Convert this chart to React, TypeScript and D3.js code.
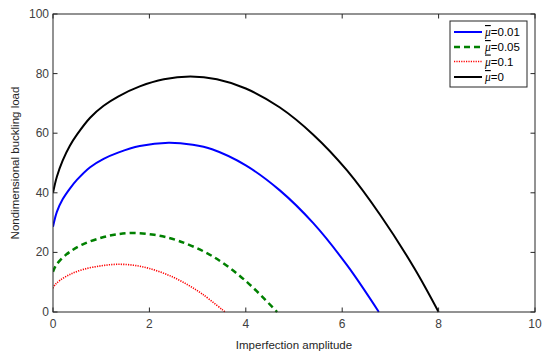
import React from 'react';
import * as d3 from 'd3';

// imperfection amplitude (x) and buckling load (y)
const xMu0 = [0, 0.08, 0.2, 0.35, 0.5, 0.77, 1.05, 1.35, 1.8, 2.3, 2.85, 3.4, 4.0, 4.7, 5.4, 6.1, 6.8, 7.5, 8.0];
const yMu0 = [40, 45.4, 50.8, 55.8, 59.6, 65.2, 69.2, 72.3, 75.7, 78.1, 79, 78.1, 75, 68.7, 59.5, 47.5, 32.3, 14.6, 0];

const xMu001 = [0, 0.08, 0.2, 0.35, 0.5, 0.77, 1.05, 1.35, 1.8, 2.4, 2.9, 3.3, 4.0, 4.7, 5.4, 6.1, 6.76];
const yMu001 = [28.6, 33.6, 37.8, 41.4, 44.4, 48.6, 51.4, 53.5, 55.7, 56.8, 56.1, 54.6, 49.2, 40.9, 29.8, 15.7, 0];

const xMu005 = [0, 0.05, 0.15, 0.35, 0.63, 1.0, 1.3, 1.65, 2.1, 2.6, 3.3, 4.0, 4.65];
const yMu005 = [13.5, 15.3, 17.4, 20.2, 22.8, 24.9, 26, 26.5, 25.9, 23.9, 18.8, 10.4, 0];

const xMu01 = [0, 0.05, 0.15, 0.35, 0.63, 1.0, 1.32, 1.67, 2.0, 2.36, 2.7, 3.1, 3.57];
const yMu01 = [8, 9.3, 10.7, 12.6, 14.3, 15.5, 16, 15.7, 14.6, 12.6, 10, 6, 0];

const xTicks = [0, 2, 4, 6, 8, 10];
const yTicks = [0, 20, 40, 60, 80, 100];
const legendLabels = ['=0.01', '=0.05', '=0.1', '=0'];

const W = 550, H = 357;
const margin = { top: 14, right: 15, bottom: 45, left: 53 };

export default function App() {
  const x = d3.scaleLinear().domain([0, 10]).range([margin.left, W - margin.right]);
  const y = d3.scaleLinear().domain([0, 100]).range([H - margin.bottom, margin.top]);

  const line = d3.line<[number, number]>()
    .x(d => x(d[0]))
    .y(d => y(d[1]))
    .curve(d3.curveCatmullRom.alpha(0.5));

  const zip = (xs: number[], ys: number[]) => xs.map((v, i) => [v, ys[i]] as [number, number]);

  const series = [
    { d: zip(xMu001, yMu001), color: '#0000ff', dash: undefined, width: 2 },
    { d: zip(xMu005, yMu005), color: '#008000', dash: '6,4', width: 2.5 },
    { d: zip(xMu01, yMu01), color: '#ff0000', dash: '1.2,1.2', width: 1.6 },
    { d: zip(xMu0, yMu0), color: '#000000', dash: undefined, width: 2 },
  ];

  const x0 = x(0), x1 = x(10), y0 = y(0), y1 = y(100);
  const axisColor = '#262626';
  const tickLen = 4.5;
  const font = 'Arial, "Liberation Sans", sans-serif';

  const lg = { x: 450, y: 21, w: 77, h: 66 };
  const rowY = [32, 47, 61.5, 77];

  return (
    <svg width={W} height={H} style={{ position: 'absolute', left: 0, top: 0, background: '#fff' }}
      fontFamily={font}>
      <rect x={0} y={0} width={W} height={H} fill="#fff" />
      <defs>
        <clipPath id="plot">
          <rect x={x0} y={y1} width={x1 - x0} height={y0 - y1 + 1} />
        </clipPath>
      </defs>

      <g clipPath="url(#plot)">
        {series.map((s, i) => (
          <path key={i} d={line(s.d) || ''} fill="none" stroke={s.color}
            strokeWidth={s.width} strokeDasharray={s.dash} />
        ))}
      </g>

      {/* axes box */}
      <rect x={x0} y={y1} width={x1 - x0} height={y0 - y1} fill="none" stroke={axisColor} strokeWidth={1} />

      {xTicks.map(t => (
        <g key={'x' + t}>
          <line x1={x(t)} x2={x(t)} y1={y0} y2={y0 - tickLen} stroke={axisColor} />
          <line x1={x(t)} x2={x(t)} y1={y1} y2={y1 + tickLen} stroke={axisColor} />
          <text x={x(t)} y={y0 + 16} textAnchor="middle" fontSize={12} fill="#404040">{t}</text>
        </g>
      ))}
      {yTicks.map(t => (
        <g key={'y' + t}>
          <line x1={x0} x2={x0 + tickLen} y1={y(t)} y2={y(t)} stroke={axisColor} />
          <line x1={x1} x2={x1 - tickLen} y1={y(t)} y2={y(t)} stroke={axisColor} />
          <text x={x0 - 4} y={y(t) + 4} textAnchor="end" fontSize={12} fill="#404040">{t}</text>
        </g>
      ))}

      <text x={(x0 + x1) / 2} y={349} textAnchor="middle" fontSize={11.5} fill="#262626">Imperfection amplitude</text>
      <text transform={`translate(19,${(y0 + y1) / 2}) rotate(-90)`} textAnchor="middle" fontSize={11.5}
        fill="#262626">Nondimensional buckling load</text>

      {/* legend */}
      <rect x={lg.x} y={lg.y} width={lg.w} height={lg.h} fill="#fff" stroke={axisColor} strokeWidth={1} />
      {series.map((s, i) => (
        <g key={'l' + i}>
          <line x1={454} x2={482} y1={rowY[i]} y2={rowY[i]} stroke={s.color}
            strokeWidth={s.width} strokeDasharray={s.dash} />
          <text x={485} y={rowY[i] + 4} fontSize={11.5} fill="#000">
            <tspan fontStyle="italic" fontFamily='"Times New Roman", "Liberation Serif", serif'
              style={{ textDecoration: 'overline' }}>μ</tspan>
            <tspan>{legendLabels[i]}</tspan>
          </text>
        </g>
      ))}
    </svg>
  );
}
